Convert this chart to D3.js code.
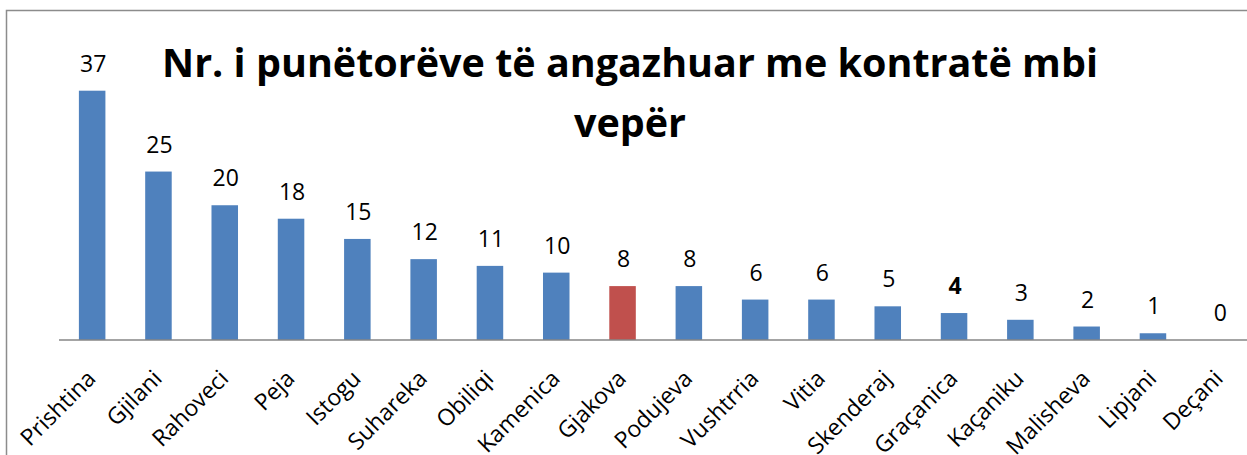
<!DOCTYPE html>
<html><head><meta charset="utf-8">
<script src="https://cdn.jsdelivr.net/npm/d3@7"></script>
<style>html,body{margin:0;padding:0;background:#fff;overflow:hidden}</style>
</head><body>
<script>
const categories = ["Prishtina","Gjilani","Rahoveci","Peja","Istogu","Suhareka","Obiliqi","Kamenica","Gjakova","Podujeva","Vushtrria","Vitia","Skenderaj","Graçanica","Kaçaniku","Malisheva","Lipjani","Deçani"];
const values = [37,25,20,18,15,12,11,10,8,8,6,6,5,4,3,2,1,0];
const highlight = "Gjakova";
const boldLabel = "Graçanica";
const title = ["Nr. i punëtorëve të angazhuar me kontratë mbi","vepër"];

const W = 1247, H = 455;
const svg = d3.select("body").append("svg").attr("width", W).attr("height", H);
const font = "'Open Sans', sans-serif";

svg.append("rect").attr("x", 6.5).attr("y", 10.5).attr("width", W + 10).attr("height", H + 10)
  .attr("fill", "none").attr("stroke", "#8c8c8c").attr("stroke-width", 1.5);

const x0 = 59, step = 66.3, baseY = 340;
const x = d3.scaleBand().domain(categories).range([x0, x0 + step * categories.length]).paddingInner(0.6).paddingOuter(0.3);
const y = d3.scaleLinear().domain([0, 37]).range([baseY, 90.7]);

svg.selectAll("rect.bar").data(categories).enter().append("rect")
  .attr("x", d => x(d)).attr("width", x.bandwidth())
  .attr("y", (d, i) => y(values[i])).attr("height", (d, i) => baseY - y(values[i]))
  .attr("fill", d => d === highlight ? "#C0504D" : "#4F81BD");

const xAxis = d3.axisBottom(x).tickSize(0).tickFormat("");
const ax = svg.append("g").attr("transform", `translate(0,${baseY})`).call(xAxis);
ax.select(".domain").attr("stroke", "#868686").attr("stroke-width", 1.5).attr("d", `M${x0},0H${W + 5}`);

svg.selectAll("text.val").data(categories).enter().append("text")
  .attr("x", d => x(d) + x.bandwidth() / 2 + 1)
  .attr("y", (d, i) => y(values[i]) - 19)
  .attr("text-anchor", "middle").attr("font-family", font).attr("font-size", 23)
  .attr("font-weight", d => d === boldLabel ? "bold" : "normal")
  .attr("fill", "#000").text((d, i) => values[i]);

svg.selectAll("text.cat").data(categories).enter().append("text")
  .attr("transform", d => `translate(${x(d) + x.bandwidth() / 2 + 5},${baseY + 40}) rotate(-45)`)
  .attr("text-anchor", "end").attr("font-family", font).attr("font-size", 23)
  .attr("fill", "#000").text(d => d);

svg.selectAll("text.title").data(title).enter().append("text")
  .attr("x", 630).attr("y", (d, i) => 77 + i * 60)
  .attr("text-anchor", "middle").attr("font-family", font).attr("font-weight", "bold")
  .attr("font-size", 39.5).attr("fill", "#000").text(d => d);
</script>
</body></html>
